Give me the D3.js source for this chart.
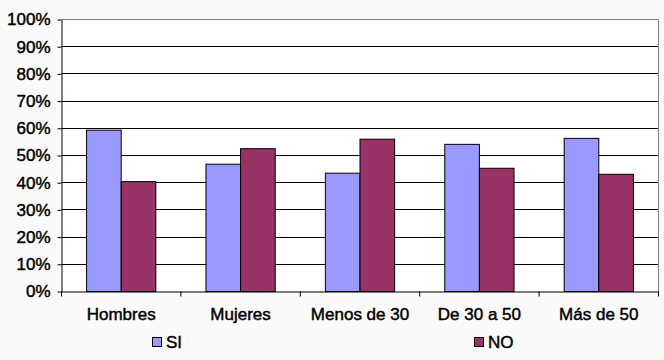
<!DOCTYPE html>
<html lang="es">
<head>
<meta charset="utf-8">
<title>SI / NO</title>
<script src="https://cdn.jsdelivr.net/npm/d3@7"></script>
<style>
  html, body { margin: 0; padding: 0; background: #fafafa; }
  svg { display: block; font-family: "Liberation Sans", Arial, sans-serif; }
  .axis text, .legend text { font-size: 17px; fill: #000; stroke: #000; stroke-width: 0.45px; }
</style>
</head>
<body>
<div id="chart"></div>
<script>
// data
var categories = ["Hombres", "Mujeres", "Menos de 30", "De 30 a 50", "Más de 50"];
var seriesNames = ["SI", "NO"];
var siValues = [59.3, 46.8, 43.5, 54.1, 56.3];
var noValues = [40.4, 52.5, 56.0, 45.3, 43.1];
var yTicks = [0, 10, 20, 30, 40, 50, 60, 70, 80, 90, 100];
var colors = ["#9999ff", "#993366"];

var W = 664, H = 360;
var margin = {top: 19.5, right: 5.5, bottom: 68.5, left: 61.5},
    width = W - margin.left - margin.right,
    height = H - margin.top - margin.bottom;

var svg = d3.select("#chart").append("svg")
    .attr("width", W).attr("height", H);

var g = svg.append("g")
    .attr("transform", "translate(" + margin.left + "," + margin.top + ")");

var x0 = d3.scaleBand().domain(categories).range([0, width]).padding(0);
var gap = x0.bandwidth() * 0.21;
var x1 = d3.scaleBand().domain(seriesNames).range([gap, x0.bandwidth() - gap]).padding(0);
var y = d3.scaleLinear().domain([0, 100]).range([height, 0]);

// plot area
g.append("rect")
    .attr("x", 0).attr("y", 0)
    .attr("width", width).attr("height", height)
    .attr("fill", "#fff");

// grid lines
g.selectAll(".grid")
    .data(yTicks.filter(function(d) { return d > 0; }))
  .enter().append("line")
    .attr("x1", 0).attr("x2", width)
    .attr("y1", function(d) { return Math.round(y(d)); })
    .attr("y2", function(d) { return Math.round(y(d)); })
    .attr("stroke", function(d) { return d === 100 ? "#808080" : "#000"; })
    .attr("stroke-width", 1);

// right border
g.append("line")
    .attr("x1", width).attr("x2", width)
    .attr("y1", 0).attr("y2", height)
    .attr("stroke", "#808080");

// bars
var rows = categories.map(function(c, i) {
  return {cat: c, vals: [siValues[i], noValues[i]]};
});

var groups = g.selectAll(".cat")
    .data(rows)
  .enter().append("g")
    .attr("transform", function(d) { return "translate(" + x0(d.cat) + ",0)"; });

groups.selectAll("rect")
    .data(function(d) { return d.vals.map(function(v, j) { return {s: seriesNames[j], v: v, j: j}; }); })
  .enter().append("rect")
    .attr("x", function(d) { return x1(d.s); })
    .attr("width", x1.bandwidth())
    .attr("y", function(d) { return y(d.v); })
    .attr("height", function(d) { return height - y(d.v); })
    .attr("fill", function(d) { return colors[d.j]; })
    .attr("stroke", "#000")
    .attr("stroke-width", 1);

// y axis
var yAxis = g.append("g")
    .attr("class", "axis")
    .call(d3.axisLeft(y).tickValues(yTicks).tickFormat(function(d) { return d + "%"; })
      .tickSizeInner(4).tickSizeOuter(0).tickPadding(7));
yAxis.select(".domain").attr("stroke", "#000");
yAxis.selectAll(".tick line").attr("stroke", "#000");

// x axis
var xAxis = g.append("g")
    .attr("class", "axis")
    .attr("transform", "translate(0," + height + ")")
    .call(d3.axisBottom(x0).tickSize(0).tickPadding(16));
xAxis.select(".domain").attr("stroke", "#000");
xAxis.selectAll(".tick text").attr("dy", "0.71em");

// category boundary ticks
var bounds = categories.map(function(c) { return x0(c); }).concat([width]);
xAxis.selectAll(".btick")
    .data(bounds)
  .enter().append("line")
    .attr("x1", function(d) { return d; }).attr("x2", function(d) { return d; })
    .attr("y1", 0).attr("y2", 5)
    .attr("stroke", "#000");

// legend
var legendX = [152, 474];
var legend = svg.selectAll(".legend")
    .data(seriesNames)
  .enter().append("g")
    .attr("class", "legend")
    .attr("transform", function(d, i) { return "translate(" + legendX[i] + ",337)"; });

legend.append("rect")
    .attr("x", 0.5).attr("y", 0.5)
    .attr("width", 9).attr("height", 9)
    .attr("fill", function(d, i) { return colors[i]; })
    .attr("stroke", "#000");

legend.append("text")
    .attr("x", 14).attr("y", 11)
    .text(function(d) { return d; });
</script>
</body>
</html>
